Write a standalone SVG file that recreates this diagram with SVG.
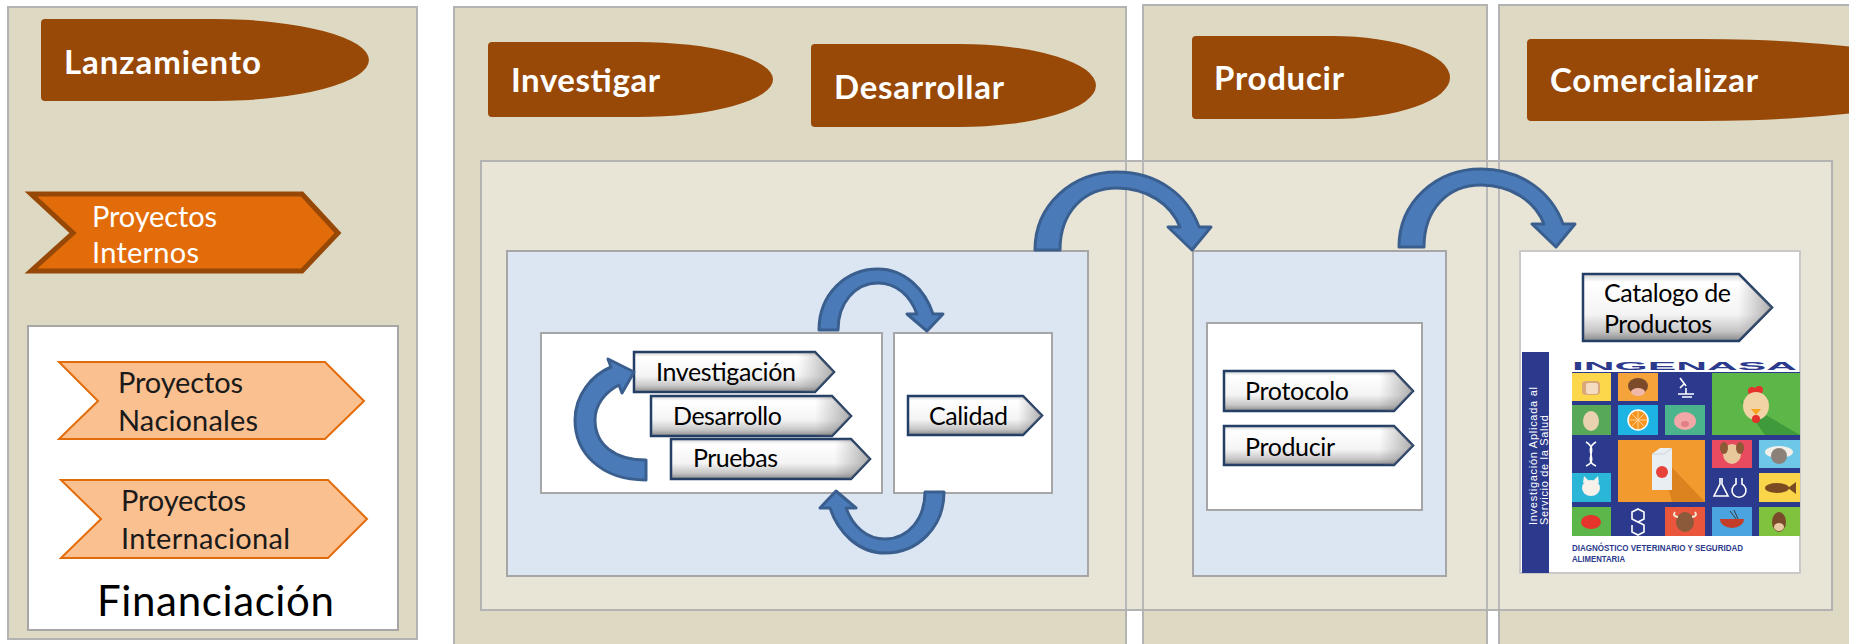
<svg xmlns="http://www.w3.org/2000/svg" width="1849" height="644" viewBox="0 0 1849 644">
<defs>
<style>
.col{fill:#ddd9c3;stroke:#b3b3b3;stroke-width:2}
.edge{fill:none;stroke:#b8b8b8;stroke-width:2}
.big{fill:#e8e5d6;stroke:#b3b3b3;stroke-width:2}
.blue{fill:#dce6f2;stroke:#a6a6a6;stroke-width:2}
.wbox{fill:#ffffff;stroke:#a6a6a6;stroke-width:2}
.pill{fill:#984807}
.ptxt{font-family:Lato,'Open Sans','Liberation Sans',sans-serif;font-weight:bold;font-size:33px;fill:#ffffff}
.bev{fill:url(#bevG);stroke:#243f66;stroke-width:2.5;stroke-linejoin:miter}
.bevs{fill:url(#bevH);stroke:none}
.btxt{font-family:Lato,'Open Sans','Liberation Sans',sans-serif;font-size:25px;fill:#000000}
.ltxt{font-family:Lato,'Open Sans','Liberation Sans',sans-serif;font-size:29px}
.carc{fill:#4a7bb8;stroke:#3a5f8f;stroke-width:3;stroke-linejoin:round}
.navy{fill:#2b3a8c}
.ic{fill:none;stroke:#ffffff;stroke-width:1.6}
</style>
<linearGradient id="bevG" x1="0" y1="0" x2="0" y2="1">
<stop offset="0" stop-color="#d0d0d0"/>
<stop offset="0.12" stop-color="#ffffff"/>
<stop offset="0.6" stop-color="#f4f4f4"/>
<stop offset="0.85" stop-color="#c6c6c6"/>
<stop offset="1" stop-color="#8a8a8a"/>
</linearGradient>
<linearGradient id="bevH" x1="0" y1="0" x2="1" y2="0">
<stop offset="0" stop-color="#808080" stop-opacity="0"/>
<stop offset="0.82" stop-color="#808080" stop-opacity="0"/>
<stop offset="1" stop-color="#6e6e6e" stop-opacity="0.55"/>
</linearGradient>
</defs>

<rect width="1849" height="644" fill="#ffffff"/>

<g id="columns">
<rect class="col" x="8" y="7" width="409" height="632"/>
<rect class="col" x="454" y="7" width="672" height="650"/>
<rect class="col" x="1143" y="5" width="344" height="652"/>
<rect class="col" x="1499" y="5" width="370" height="652"/>
</g>

<g id="process-panel">
<rect class="big" x="481" y="161" width="1351" height="449"/>
<line class="edge" x1="1126" y1="162" x2="1126" y2="609"/>
<line class="edge" x1="1143" y1="162" x2="1143" y2="609"/>
<line class="edge" x1="1487" y1="162" x2="1487" y2="609"/>
<line class="edge" x1="1499" y1="162" x2="1499" y2="609"/>
</g>

<g id="lanzamiento">
<path class="pill" d="M45 19 H213 A156 41 0 0 1 213 101 H45 Q41 101 41 97 V23 Q41 19 45 19 Z"/>
<text class="ptxt" x="64" y="74" textLength="197">Lanzamiento</text>
</g>

<g id="proyectos-internos">
<path d="M31 194 H302 L338 233 L302 271 H31 L73 233 Z" fill="#e36c0a" stroke="#974806" stroke-width="5" stroke-linejoin="miter"/>
<text class="ltxt" fill="#ffffff" x="92" y="227" textLength="125">Proyectos</text>
<text class="ltxt" fill="#ffffff" x="92" y="263" textLength="107">Internos</text>
</g>

<g id="financiacion">
<rect x="28" y="326" width="370" height="304" fill="#ffffff" stroke="#a6a6a6" stroke-width="2"/>
<text x="97" y="616" font-family="Lato,'Open Sans','Liberation Sans',sans-serif" font-size="42" fill="#000000" textLength="237">Financiación</text>
</g>

<g id="proyectos-nacionales">
<path d="M59 362 H325 L364 401 L325 439 H59 L98 401 Z" fill="#fac090" stroke="#e36c0a" stroke-width="2"/>
<text class="ltxt" fill="#1a1a1a" x="118" y="393" textLength="125">Proyectos</text>
<text class="ltxt" fill="#1a1a1a" x="118" y="431" textLength="140">Nacionales</text>
</g>

<g id="proyectos-internacional">
<path d="M61 480 H328 L367 519 L328 558 H61 L101 519 Z" fill="#fac090" stroke="#e36c0a" stroke-width="2"/>
<text class="ltxt" fill="#1a1a1a" x="121" y="511" textLength="125">Proyectos</text>
<text class="ltxt" fill="#1a1a1a" x="121" y="549" textLength="169">Internacional</text>
</g>

<g id="investigar">
<path class="pill" d="M492 42 H637 A136 37.5 0 0 1 637 117 H492 Q488 117 488 113 V46 Q488 42 492 42 Z"/>
<text class="ptxt" x="511" y="92" textLength="149">Investigar</text>
</g>

<g id="desarrollar">
<path class="pill" d="M815 44 H959 A137 41.5 0 0 1 959 127 H815 Q811 127 811 123 V48 Q811 44 815 44 Z"/>
<text class="ptxt" x="834" y="99" textLength="170">Desarrollar</text>
</g>

<g id="producir-header">
<path class="pill" d="M1196 36 H1332 A118 41.5 0 0 1 1332 119 H1196 Q1192 119 1192 115 V40 Q1192 36 1196 36 Z"/>
<text class="ptxt" x="1214" y="90" textLength="130">Producir</text>
</g>

<g id="comercializar-header">
<path class="pill" d="M1531 39 H1700 A260 41 0 0 1 1700 121 H1531 Q1527 121 1527 117 V43 Q1527 39 1531 39 Z"/>
<text class="ptxt" x="1550" y="92" textLength="208">Comercializar</text>
</g>

<g id="idi-panel">
<rect class="blue" x="507" y="251" width="581" height="325"/>
</g>

<g id="idi-box">
<rect class="wbox" x="541" y="333" width="341" height="160"/>
</g>

<g id="investigacion">
<path class="bev" d="M634 352 H815 L834 372 L815 392 H634 Z"/>
<path class="bevs" d="M634 352 H815 L834 372 L815 392 H634 Z"/>
<text class="btxt" x="656" y="381" textLength="140">Investigación</text>
</g>

<g id="desarrollo">
<path class="bev" d="M651 396 H832 L851 416 L832 436 H651 Z"/>
<path class="bevs" d="M651 396 H832 L851 416 L832 436 H651 Z"/>
<text class="btxt" x="673" y="425" textLength="109">Desarrollo</text>
</g>

<g id="pruebas">
<path class="bev" d="M671 439 H851 L870 459 L851 479 H671 Z"/>
<path class="bevs" d="M671 439 H851 L870 459 L851 479 H671 Z"/>
<text class="btxt" x="693" y="467" textLength="85">Pruebas</text>
</g>

<g id="calidad-box">
<rect class="wbox" x="894" y="333" width="158" height="160"/>
</g>

<g id="calidad">
<path class="bev" d="M908 396 H1023 L1042 415.5 L1023 435 H908 Z"/>
<path class="bevs" d="M908 396 H1023 L1042 415.5 L1023 435 H908 Z"/>
<text class="btxt" x="929" y="425" textLength="79">Calidad</text>
</g>

<g id="producir-panel">
<rect class="blue" x="1193" y="251" width="253" height="325"/>
<rect class="wbox" x="1207" y="323" width="215" height="187"/>
</g>

<g id="protocolo">
<path class="bev" d="M1224 371 H1394 L1413 391 L1394 411 H1224 Z"/>
<path class="bevs" d="M1224 371 H1394 L1413 391 L1394 411 H1224 Z"/>
<text class="btxt" x="1245" y="400" textLength="104">Protocolo</text>
</g>

<g id="producir">
<path class="bev" d="M1224 426 H1394 L1413 445.5 L1394 465 H1224 Z"/>
<path class="bevs" d="M1224 426 H1394 L1413 445.5 L1394 465 H1224 Z"/>
<text class="btxt" x="1245" y="456" textLength="90">Producir</text>
</g>

<g id="catalogo-panel">
<rect x="1520" y="251" width="280" height="322" fill="#ffffff" stroke="#c8c8c8" stroke-width="2"/>
<rect class="navy" x="1522" y="352" width="27" height="221"/>
<text transform="translate(1537 525) rotate(-90)" font-family="'Liberation Sans',Arial,sans-serif" font-size="11" fill="#ffffff" textLength="138">Investigación Aplicada al</text>
<text transform="translate(1548 525) rotate(-90)" font-family="'Liberation Sans',Arial,sans-serif" font-size="11" fill="#ffffff" textLength="110">Servicio de la Salud</text>
<text x="1572" y="370" font-family="'Liberation Sans',Arial,sans-serif" font-weight="bold" font-size="10" fill="#2b3a8c" textLength="225" lengthAdjust="spacingAndGlyphs">INGENASA</text>
<rect class="navy" x="1572" y="372" width="228" height="164"/>
<!-- tiles -->
<rect x="1572" y="373" width="39" height="28" fill="#fcd64b"/>
<rect x="1582" y="381" width="18" height="14" rx="4" fill="#d9a877"/>
<rect x="1586" y="383" width="12" height="11" rx="2" fill="#f3dcc0"/>
<rect x="1618" y="373" width="40" height="28" fill="#f5a33b"/>
<ellipse cx="1638" cy="386" rx="10" ry="8" fill="#7b4a2a"/>
<ellipse cx="1638" cy="392" rx="7" ry="4" fill="#f0b8a8"/>
<path class="ic" d="M1680 378 l6 8 M1684 384 l-4 4 M1678 394 h16 M1686 388 v6 M1682 397 h10"/>
<rect x="1712" y="373" width="88" height="62" fill="#5db648"/>
<path d="M1740 400 L1800 435 L1765 435 Z" fill="#3f9a3c"/>
<circle cx="1752" cy="391" r="4" fill="#e5322d"/>
<circle cx="1759" cy="390" r="4" fill="#e5322d"/>
<ellipse cx="1756" cy="406" rx="13" ry="14" fill="#f1d3a6"/>
<path d="M1751 409 L1761 409 L1756 415 Z" fill="#f7a21b"/>
<ellipse cx="1756" cy="419" rx="4" ry="4" fill="#e5322d"/>
<rect x="1572" y="405" width="39" height="30" fill="#58a85a"/>
<ellipse cx="1591" cy="421" rx="8" ry="10" fill="#e8d2b0"/>
<rect x="1618" y="405" width="40" height="30" fill="#1db4e3"/>
<circle cx="1638" cy="420" r="10" fill="#f7941d" stroke="#ffffff" stroke-width="1.5"/>
<path d="M1638 411 V429 M1629 420 H1647 M1632 414 L1644 426 M1644 414 L1632 426" stroke="#fcd29a" stroke-width="1"/>
<rect x="1665" y="405" width="40" height="30" fill="#4ab48d"/>
<ellipse cx="1685" cy="421" rx="11" ry="9" fill="#f4a7a7"/>
<ellipse cx="1685" cy="424" rx="4" ry="3" fill="#e07f86"/>
<path class="ic" d="M1586 442 C1600 450 1582 460 1596 466 M1596 442 C1582 450 1600 460 1586 466"/>
<rect x="1618" y="440" width="87" height="62" fill="#f39a2e"/>
<path d="M1660 455 L1705 502 L1672 502 Z" fill="#dc821f"/>
<path d="M1652 454 L1660 448 L1672 448 L1672 490 L1652 490 Z" fill="#e9eef3"/>
<path d="M1652 454 L1664 454 L1672 448" fill="none" stroke="#c9d2db" stroke-width="1"/>
<circle cx="1662" cy="472" r="6" fill="#e8433b"/>
<rect x="1712" y="440" width="40" height="28" fill="#e84b5f"/>
<ellipse cx="1732" cy="454" rx="9" ry="10" fill="#e8c79b"/>
<ellipse cx="1724" cy="448" rx="4" ry="6" fill="#8c5a35"/>
<ellipse cx="1740" cy="448" rx="4" ry="6" fill="#8c5a35"/>
<rect x="1759" y="440" width="41" height="28" fill="#6fc7e8"/>
<ellipse cx="1779" cy="452" rx="14" ry="6" fill="#f2efe8"/>
<ellipse cx="1779" cy="456" rx="8" ry="8" fill="#8b8178"/>
<rect x="1572" y="473" width="39" height="29" fill="#2ab6d6"/>
<ellipse cx="1591" cy="488" rx="9" ry="8" fill="#f6f1ea"/>
<path d="M1583 483 L1584 476 L1589 481 Z M1599 483 L1598 476 L1593 481 Z" fill="#f6f1ea"/>
<path class="ic" d="M1720 478 v6 l-6 12 h14 l-6 -12 v-6 M1736 478 v6 a7 7 0 1 0 6 0 v-6"/>
<rect x="1759" y="473" width="41" height="29" fill="#fad54a"/>
<ellipse cx="1777" cy="488" rx="12" ry="5" fill="#7a4a22"/>
<path d="M1788 488 L1796 482 L1796 494 Z" fill="#7a4a22"/>
<rect x="1572" y="507" width="39" height="29" fill="#5cb649"/>
<ellipse cx="1591" cy="522" rx="10" ry="7" fill="#e4342c"/>
<path class="ic" d="M1632 512 l6 -3 l6 3 v7 l-6 3 l-6 -3 Z M1638 522 l6 3 v7 l-6 3 l-6 -3 v-7"/>
<rect x="1665" y="507" width="40" height="29" fill="#e9563c"/>
<ellipse cx="1685" cy="522" rx="9" ry="10" fill="#8a5a3a"/>
<path d="M1675 512 Q1672 516 1678 517 M1695 512 Q1698 516 1692 517" stroke="#f2e6d0" stroke-width="2" fill="none"/>
<rect x="1712" y="507" width="40" height="29" fill="#4aa4df"/>
<path d="M1720 519 H1744 A12 9 0 0 1 1720 519 Z" fill="#c43d2a"/>
<path d="M1730 511 L1736 519 M1734 510 L1738 519" stroke="#3a3a3a" stroke-width="1"/>
<rect x="1759" y="507" width="41" height="29" fill="#7ec23d"/>
<ellipse cx="1779" cy="522" rx="7" ry="10" fill="#7b4a2a"/>
<ellipse cx="1779" cy="527" rx="5" ry="4" fill="#e9c9a4"/>
<text x="1572" y="551" font-family="'Liberation Sans',Arial,sans-serif" font-weight="bold" font-size="9.5" fill="#2b3a8c" textLength="171" lengthAdjust="spacingAndGlyphs">DIAGNÓSTICO VETERINARIO Y SEGURIDAD</text>
<text x="1572" y="562" font-family="'Liberation Sans',Arial,sans-serif" font-weight="bold" font-size="9.5" fill="#2b3a8c" textLength="53" lengthAdjust="spacingAndGlyphs">ALIMENTARIA</text>
</g>

<g id="catalogo">
<path class="bev" d="M1583 274 H1739 L1772 307.5 L1739 341 H1583 Z"/>
<path class="bevs" d="M1583 274 H1739 L1772 307.5 L1739 341 H1583 Z"/>
<text class="btxt" x="1604" y="302" textLength="127">Catalogo de</text>
<text class="btxt" x="1604" y="333" textLength="108">Productos</text>
</g>

<g id="connectors">
<path class="carc" d="M646 480 C600 480 575 452 575 420 C575 395 592 375 611 367 L608 359 L634 372 L622 393 L619 385 C605 392 595 405 595 420 C595 445 615 460 646 460 Z"/>
<path class="carc" d="M819 330 C819 295 845 269 878 269 C905 269 925 290 933 314 L943 314 L927 331 L907 314 L917 314 C910 295 896 283 878 283 C855 283 838 303 838 330 Z"/>
<path class="carc" transform="rotate(180 881.5 411)" d="M819 330 C819 295 845 269 878 269 C905 269 925 290 933 314 L943 314 L927 331 L907 314 L917 314 C910 295 896 283 878 283 C855 283 838 303 838 330 Z"/>
<path class="carc" d="M1035 250 C1035 205 1072 172 1117 172 C1158 172 1188 196 1199 227 L1211 227 L1192 250 L1168 227 L1180 227 C1171 204 1147 188 1117 188 C1084 188 1060 212 1060 250 Z"/>
<path class="carc" transform="translate(364 -3)" d="M1035 250 C1035 205 1072 172 1117 172 C1158 172 1188 196 1199 227 L1211 227 L1192 250 L1168 227 L1180 227 C1171 204 1147 188 1117 188 C1084 188 1060 212 1060 250 Z"/>
</g>
</svg>
